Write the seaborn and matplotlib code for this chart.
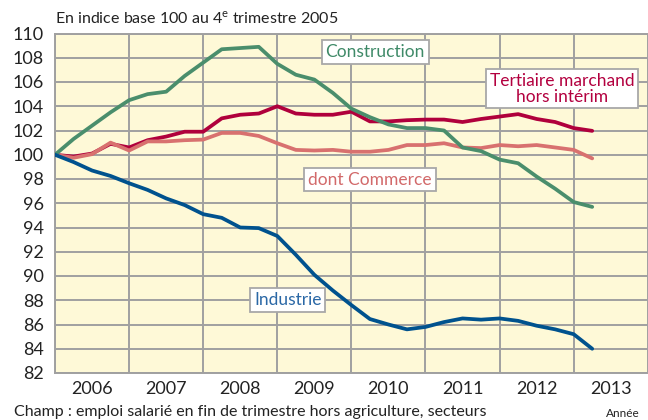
import matplotlib

matplotlib.use("Agg")

import matplotlib.pyplot as plt  # noqa: E402
import numpy as np  # noqa: E402
import pandas as pd  # noqa: E402
import seaborn as sns  # noqa: E402

# trimestres : T4 2005 (base 100) -> T1 2013
quarters = pd.period_range("2005Q4", "2013Q1", freq="Q")

construction = [100.0, 101.3, 102.4, 103.5, 104.5, 105.0, 105.2, 106.5, 107.6, 108.7,
                108.8, 108.9, 107.5, 106.6, 106.2, 105.1, 103.8, 103.1, 102.5, 102.2,
                102.2, 102.0, 100.6, 100.3, 99.6, 99.3, 98.2, 97.2, 96.1, 95.7]
tertiaire = [100.0, 99.85, 100.1, 100.9, 100.6, 101.2, 101.5, 101.9, 101.9, 103.0,
             103.3, 103.4, 104.0, 103.4, 103.3, 103.3, 103.55, 102.75, 102.75, 102.85,
             102.9, 102.9, 102.7, 102.95, 103.15, 103.35, 102.95, 102.7, 102.2, 101.97]
commerce = [100.0, 99.75, 100.05, 101.0, 100.35, 101.1, 101.1, 101.2, 101.25, 101.8,
            101.8, 101.55, 100.95, 100.4, 100.35, 100.4, 100.25, 100.25, 100.4, 100.8,
            100.8, 100.95, 100.6, 100.55, 100.8, 100.7, 100.8, 100.6, 100.4, 99.7]
industrie = [100.0, 99.4, 98.7, 98.25, 97.65, 97.1, 96.4, 95.85, 95.1, 94.8,
             94.0, 93.95, 93.3, 91.75, 90.1, 88.8, 87.6, 86.45, 86.0, 85.6,
             85.8, 86.2, 86.5, 86.4, 86.5, 86.3, 85.9, 85.6, 85.2, 84.0]

years = [2006, 2007, 2008, 2009, 2010, 2011, 2012, 2013]
y_ticks = list(range(82, 111, 2))

series = {
    "Tertiaire marchand\nhors intérim": tertiaire,
    "dont Commerce": commerce,
    "Construction": construction,
    "Industrie": industrie,
}
line_colors = {
    "Tertiaire marchand\nhors intérim": "#B0003C",
    "dont Commerce": "#D8716F",
    "Construction": "#4A8E6C",
    "Industrie": "#00528E",
}
text_colors = {
    "Tertiaire marchand\nhors intérim": "#B3003F",
    "dont Commerce": "#D2696A",
    "Construction": "#3F8A68",
    "Industrie": "#2B68A6",
}
# position des étiquettes (x en années, y en indice)
label_pos = {
    "Construction": (2010.32, 108.45),
    "Tertiaire marchand\nhors intérim": (2012.84, 105.45),
    "dont Commerce": (2010.25, 97.95),
    "Industrie": (2009.14, 88.0),
}

t = [p.year + p.quarter / 4 for p in quarters]
df = pd.concat(
    [pd.DataFrame({"t": t, "indice": v, "secteur": k}) for k, v in series.items()],
    ignore_index=True,
)

sns.set_style("white")
plt.rcParams["font.family"] = ["Lato", "DejaVu Sans"]

fig = plt.figure(figsize=(6.48, 4.2), dpi=100)
ax = fig.add_axes([55 / 648, 47 / 420, 595 / 648, 339.5 / 420])
ax.set_facecolor("#FEF9D7")

sns.lineplot(data=df, x="t", y="indice", hue="secteur", hue_order=list(series),
             palette=line_colors, linewidth=2.7, legend=False, ax=ax, zorder=3)

ax.set_xlim(2006, 2014.03)
ax.set_ylim(82, 110)
ax.set_xticks(years + [2014])
ax.set_xticklabels([])
ax.set_xticks([y + q for y in years for q in (0.25, 0.75)], minor=True)
ax.set_yticks(y_ticks)
ax.set_yticklabels([str(v) for v in y_ticks], fontsize=13, color="#222222")
ax.tick_params(axis="y", length=0, pad=8)
ax.tick_params(axis="x", which="major", length=7, width=1.2, color="#999999", direction="out")
ax.tick_params(axis="x", which="minor", length=4, width=1.2, color="#999999", direction="out")
ax.grid(True, which="major", color="#A0A0A0", linewidth=1.4, zorder=1)
ax.set_axisbelow(True)
ax.set_xlabel("")
ax.set_ylabel("")
for side in ("left", "top", "bottom"):
    ax.spines[side].set_color("#A0A0A0")
    ax.spines[side].set_linewidth(1.4)
ax.spines["right"].set_visible(False)

for yr in years:
    ax.text(yr + 0.5, -0.047, str(yr), transform=ax.get_xaxis_transform(),
            ha="center", va="center", fontsize=13, color="#222222")

for name, (lx, ly) in label_pos.items():
    ax.text(lx, ly, name, ha="center", va="center", fontsize=12.5,
            color=text_colors[name], linespacing=1.0, zorder=5,
            bbox=dict(boxstyle="square,pad=0.22", fc="white", ec="#A8A8A8", lw=1.3))

fig.text(55 / 648, 1 - 18 / 420, "En indice base 100 au 4$^{\\mathregular{e}}$ trimestre 2005",
         ha="left", va="center", fontsize=11.5, color="#222222")
fig.text(14 / 648, 1 - 419 / 420,
         "Champ : emploi salarié en fin de trimestre hors agriculture, secteurs",
         ha="left", va="bottom", fontsize=11.5, color="#222222")
fig.text(606 / 648, 1 - 419 / 420, "Année", ha="left", va="bottom", fontsize=8.5,
         color="#222222")

fig.savefig("out.png", dpi=100)
